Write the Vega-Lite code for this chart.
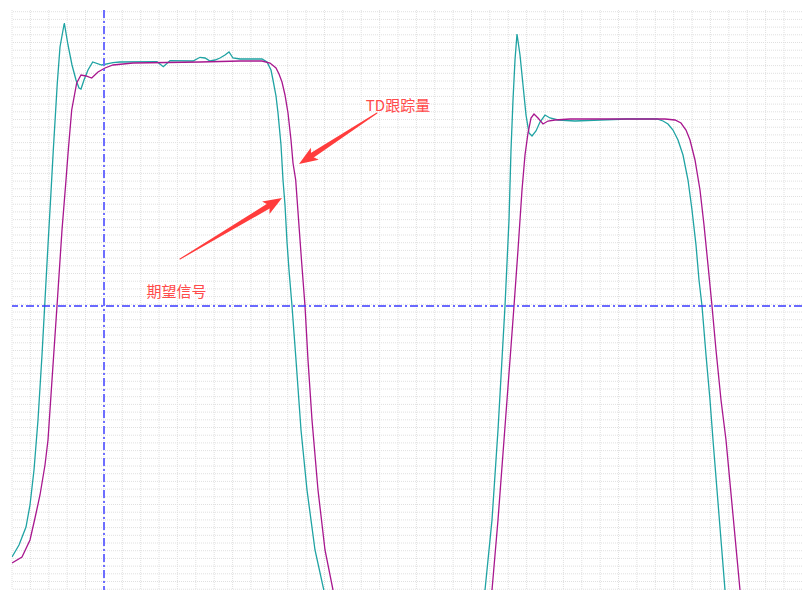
{
  "$schema": "https://vega.github.io/schema/vega-lite/v6.json",
  "width": 790,
  "height": 580,
  "padding": {"left": 12, "top": 10, "right": 0, "bottom": 0},
  "autosize": {"type": "none"},
  "background": "white",
  "config": {"view": {"stroke": null}},
  "datasets": {
    "gridx": [{"t": 0}, {"t": 18.4}, {"t": 36.8}, {"t": 55.1}, {"t": 73.5}, {"t": 91.9}, {"t": 110.3}, {"t": 128.7}, {"t": 147}, {"t": 165.4}, {"t": 183.8}, {"t": 202.2}, {"t": 220.6}, {"t": 238.9}, {"t": 257.3}, {"t": 275.7}, {"t": 294.1}, {"t": 312.5}, {"t": 330.8}, {"t": 349.2}, {"t": 367.6}, {"t": 386}, {"t": 404.4}, {"t": 422.7}, {"t": 441.1}, {"t": 459.5}, {"t": 477.9}, {"t": 496.3}, {"t": 514.6}, {"t": 533}, {"t": 551.4}, {"t": 569.8}, {"t": 588.2}, {"t": 606.5}, {"t": 624.9}, {"t": 643.3}, {"t": 661.7}, {"t": 680.1}, {"t": 698.4}, {"t": 716.8}, {"t": 735.2}, {"t": 753.6}, {"t": 772}],
    "gridy": [{"v": 0.8}, {"v": 8.5}, {"v": 16.2}, {"v": 23.9}, {"v": 31.6}, {"v": 39.3}, {"v": 47}, {"v": 54.7}, {"v": 62.4}, {"v": 70.1}, {"v": 77.8}, {"v": 85.5}, {"v": 93.2}, {"v": 100.9}, {"v": 108.6}, {"v": 116.3}, {"v": 124}, {"v": 131.7}, {"v": 139.4}, {"v": 147.1}, {"v": 154.8}, {"v": 162.5}, {"v": 170.2}, {"v": 177.9}, {"v": 185.6}, {"v": 193.3}, {"v": 201}, {"v": 208.7}, {"v": 216.4}, {"v": 224.1}, {"v": 231.8}, {"v": 239.5}, {"v": 247.2}, {"v": 254.9}, {"v": 262.6}, {"v": 270.3}, {"v": 278}, {"v": 285.7}, {"v": 293.4}, {"v": 301.1}, {"v": 308.8}, {"v": 316.5}, {"v": 324.2}, {"v": 331.9}, {"v": 339.6}, {"v": 347.3}, {"v": 355}, {"v": 362.7}, {"v": 370.4}, {"v": 378.1}, {"v": 385.8}, {"v": 393.5}, {"v": 401.2}, {"v": 408.9}, {"v": 416.6}, {"v": 424.3}, {"v": 432}, {"v": 439.7}, {"v": 447.4}, {"v": 455.1}, {"v": 462.8}, {"v": 470.5}, {"v": 478.2}, {"v": 485.9}, {"v": 493.6}, {"v": 501.3}, {"v": 509}, {"v": 516.7}, {"v": 524.4}, {"v": 532.1}, {"v": 539.8}, {"v": 547.5}, {"v": 555.2}, {"v": 562.9}, {"v": 570.6}, {"v": 578.3}],
    "curves": [
      {"s": "期望信号", "t": 0, "v": 33}, {"s": "期望信号", "t": 7, "v": 45}, {"s": "期望信号", "t": 14, "v": 63}, {"s": "期望信号", "t": 18, "v": 85}, {"s": "期望信号", "t": 22, "v": 120}, {"s": "期望信号", "t": 26, "v": 170}, {"s": "期望信号", "t": 30, "v": 235}, {"s": "期望信号", "t": 33, "v": 290}, {"s": "期望信号", "t": 36, "v": 345}, {"s": "期望信号", "t": 39, "v": 398}, {"s": "期望信号", "t": 41.3, "v": 440}, {"s": "期望信号", "t": 45.3, "v": 507}, {"s": "期望信号", "t": 48, "v": 543}, {"s": "期望信号", "t": 52.3, "v": 567}, {"s": "期望信号", "t": 56, "v": 545}, {"s": "期望信号", "t": 60, "v": 525}, {"s": "期望信号", "t": 64, "v": 510}, {"s": "期望信号", "t": 67, "v": 502}, {"s": "期望信号", "t": 69, "v": 501}, {"s": "期望信号", "t": 72, "v": 510}, {"s": "期望信号", "t": 76, "v": 520}, {"s": "期望信号", "t": 80.7, "v": 528}, {"s": "期望信号", "t": 89.7, "v": 525}, {"s": "期望信号", "t": 101, "v": 527.3}, {"s": "期望信号", "t": 108, "v": 528}, {"s": "期望信号", "t": 145, "v": 528.3}, {"s": "期望信号", "t": 151.3, "v": 523.3}, {"s": "期望信号", "t": 158, "v": 529.3}, {"s": "期望信号", "t": 181, "v": 529}, {"s": "期望信号", "t": 188, "v": 532.7}, {"s": "期望信号", "t": 193, "v": 532}, {"s": "期望信号", "t": 198, "v": 529}, {"s": "期望信号", "t": 203, "v": 530}, {"s": "期望信号", "t": 208, "v": 532}, {"s": "期望信号", "t": 213, "v": 535}, {"s": "期望信号", "t": 217, "v": 538}, {"s": "期望信号", "t": 221, "v": 532}, {"s": "期望信号", "t": 228, "v": 531}, {"s": "期望信号", "t": 238, "v": 531}, {"s": "期望信号", "t": 250, "v": 531}, {"s": "期望信号", "t": 255, "v": 528}, {"s": "期望信号", "t": 259, "v": 520}, {"s": "期望信号", "t": 261, "v": 510}, {"s": "期望信号", "t": 264, "v": 494}, {"s": "期望信号", "t": 266, "v": 477}, {"s": "期望信号", "t": 269, "v": 445}, {"s": "期望信号", "t": 271, "v": 410}, {"s": "期望信号", "t": 273, "v": 385}, {"s": "期望信号", "t": 275, "v": 348}, {"s": "期望信号", "t": 277, "v": 320}, {"s": "期望信号", "t": 280, "v": 284}, {"s": "期望信号", "t": 284, "v": 230}, {"s": "期望信号", "t": 289, "v": 160}, {"s": "期望信号", "t": 295, "v": 100}, {"s": "期望信号", "t": 303, "v": 40}, {"s": "期望信号", "t": 314, "v": -10}, {"s": "期望信号", "t": 328, "v": -50}, {"s": "期望信号", "t": 458, "v": -50}, {"s": "期望信号", "t": 473, "v": 0}, {"s": "期望信号", "t": 480, "v": 70}, {"s": "期望信号", "t": 486, "v": 160}, {"s": "期望信号", "t": 493, "v": 284}, {"s": "期望信号", "t": 497, "v": 370}, {"s": "期望信号", "t": 499, "v": 440}, {"s": "期望信号", "t": 501, "v": 490}, {"s": "期望信号", "t": 503, "v": 530}, {"s": "期望信号", "t": 505, "v": 556}, {"s": "期望信号", "t": 508, "v": 535}, {"s": "期望信号", "t": 511, "v": 505}, {"s": "期望信号", "t": 514, "v": 475}, {"s": "期望信号", "t": 517, "v": 457}, {"s": "期望信号", "t": 520, "v": 454}, {"s": "期望信号", "t": 524, "v": 459}, {"s": "期望信号", "t": 528, "v": 468}, {"s": "期望信号", "t": 533, "v": 475}, {"s": "期望信号", "t": 538, "v": 472}, {"s": "期望信号", "t": 546, "v": 470}, {"s": "期望信号", "t": 563, "v": 469}, {"s": "期望信号", "t": 588, "v": 470}, {"s": "期望信号", "t": 615, "v": 471}, {"s": "期望信号", "t": 645, "v": 471}, {"s": "期望信号", "t": 651, "v": 469}, {"s": "期望信号", "t": 656, "v": 466}, {"s": "期望信号", "t": 661, "v": 460}, {"s": "期望信号", "t": 666, "v": 450}, {"s": "期望信号", "t": 671, "v": 435}, {"s": "期望信号", "t": 676, "v": 410}, {"s": "期望信号", "t": 680, "v": 380}, {"s": "期望信号", "t": 684, "v": 345}, {"s": "期望信号", "t": 687, "v": 310}, {"s": "期望信号", "t": 690, "v": 284}, {"s": "期望信号", "t": 694, "v": 235}, {"s": "期望信号", "t": 698, "v": 190}, {"s": "期望信号", "t": 701, "v": 150}, {"s": "期望信号", "t": 707, "v": 75}, {"s": "期望信号", "t": 713, "v": 0}, {"s": "期望信号", "t": 719, "v": -70},
      {"s": "TD跟踪量", "t": 0, "v": 27}, {"s": "TD跟踪量", "t": 10, "v": 33}, {"s": "TD跟踪量", "t": 18, "v": 50}, {"s": "TD跟踪量", "t": 23, "v": 72}, {"s": "TD跟踪量", "t": 28, "v": 95}, {"s": "TD跟踪量", "t": 33, "v": 125}, {"s": "TD跟踪量", "t": 36, "v": 150}, {"s": "TD跟踪量", "t": 40, "v": 210}, {"s": "TD跟踪量", "t": 45, "v": 284}, {"s": "TD跟踪量", "t": 50, "v": 360}, {"s": "TD跟踪量", "t": 54, "v": 410}, {"s": "TD跟踪量", "t": 56.3, "v": 440}, {"s": "TD跟踪量", "t": 59.7, "v": 480}, {"s": "TD跟踪量", "t": 64.7, "v": 507}, {"s": "TD跟踪量", "t": 69, "v": 515}, {"s": "TD跟踪量", "t": 74, "v": 514}, {"s": "TD跟踪量", "t": 79.7, "v": 512}, {"s": "TD跟踪量", "t": 86, "v": 518}, {"s": "TD跟踪量", "t": 93, "v": 522}, {"s": "TD跟踪量", "t": 101, "v": 525}, {"s": "TD跟踪量", "t": 121, "v": 527}, {"s": "TD跟踪量", "t": 188, "v": 528}, {"s": "TD跟踪量", "t": 228, "v": 529}, {"s": "TD跟踪量", "t": 250, "v": 529}, {"s": "TD跟踪量", "t": 258, "v": 527}, {"s": "TD跟踪量", "t": 264, "v": 522}, {"s": "TD跟踪量", "t": 267, "v": 516}, {"s": "TD跟踪量", "t": 270, "v": 508}, {"s": "TD跟踪量", "t": 273, "v": 495}, {"s": "TD跟踪量", "t": 276, "v": 477}, {"s": "TD跟踪量", "t": 279, "v": 450}, {"s": "TD跟踪量", "t": 281, "v": 427}, {"s": "TD跟踪量", "t": 283.7, "v": 410}, {"s": "TD跟踪量", "t": 285.5, "v": 385}, {"s": "TD跟踪量", "t": 287.3, "v": 360}, {"s": "TD跟踪量", "t": 289.7, "v": 327}, {"s": "TD跟踪量", "t": 293, "v": 284}, {"s": "TD跟踪量", "t": 296, "v": 230}, {"s": "TD跟踪量", "t": 300, "v": 170}, {"s": "TD跟踪量", "t": 306, "v": 100}, {"s": "TD跟踪量", "t": 313, "v": 40}, {"s": "TD跟踪量", "t": 321, "v": 0}, {"s": "TD跟踪量", "t": 333, "v": -50}, {"s": "TD跟踪量", "t": 468, "v": -50}, {"s": "TD跟踪量", "t": 480, "v": 0}, {"s": "TD跟踪量", "t": 486, "v": 70}, {"s": "TD跟踪量", "t": 492, "v": 150}, {"s": "TD跟踪量", "t": 498, "v": 230}, {"s": "TD跟踪量", "t": 502, "v": 284}, {"s": "TD跟踪量", "t": 506, "v": 340}, {"s": "TD跟踪量", "t": 510, "v": 400}, {"s": "TD跟踪量", "t": 513, "v": 435}, {"s": "TD跟踪量", "t": 516, "v": 457}, {"s": "TD跟踪量", "t": 519, "v": 472}, {"s": "TD跟踪量", "t": 522, "v": 476}, {"s": "TD跟踪量", "t": 526, "v": 472}, {"s": "TD跟踪量", "t": 531, "v": 466}, {"s": "TD跟踪量", "t": 536, "v": 469}, {"s": "TD跟踪量", "t": 543, "v": 470}, {"s": "TD跟踪量", "t": 558, "v": 471}, {"s": "TD跟踪量", "t": 628, "v": 471}, {"s": "TD跟踪量", "t": 653, "v": 471}, {"s": "TD跟踪量", "t": 663, "v": 470}, {"s": "TD跟踪量", "t": 669, "v": 467}, {"s": "TD跟踪量", "t": 674, "v": 460}, {"s": "TD跟踪量", "t": 678, "v": 450}, {"s": "TD跟踪量", "t": 683, "v": 430}, {"s": "TD跟踪量", "t": 688, "v": 400}, {"s": "TD跟踪量", "t": 692, "v": 365}, {"s": "TD跟踪量", "t": 696, "v": 325}, {"s": "TD跟踪量", "t": 700, "v": 284}, {"s": "TD跟踪量", "t": 704, "v": 240}, {"s": "TD跟踪量", "t": 709, "v": 190}, {"s": "TD跟踪量", "t": 714, "v": 150}, {"s": "TD跟踪量", "t": 721, "v": 75}, {"s": "TD跟踪量", "t": 728, "v": 0}, {"s": "TD跟踪量", "t": 735, "v": -60}
    ],
    "labels": [
      {"txt": "TD跟踪量", "t": 386, "v": 484},
      {"txt": "期望信号", "t": 164.5, "v": 298.5}
    ],
    "arrows": [
      {"id": 1, "end": 0, "t": 365, "v": 477},
      {"id": 1, "end": 1, "t": 297, "v": 432.6},
      {"id": 2, "end": 0, "t": 168, "v": 331},
      {"id": 2, "end": 1, "t": 259.7, "v": 385.8}
    ],
    "heads": [
      {"id": 1, "t": 287, "v": 426},
      {"id": 2, "t": 270, "v": 392}
    ]
  },
  "encoding": {
    "x": {"field": "t", "type": "quantitative", "axis": null, "scale": {"domain": [0, 790], "nice": false, "zero": false}},
    "y": {"field": "v", "type": "quantitative", "axis": null, "scale": {"domain": [0, 580], "nice": false, "zero": false}}
  },
  "layer": [
    {
      "data": {"name": "gridx"},
      "mark": {"type": "rule", "color": "#e0e0e0", "strokeWidth": 1, "strokeDash": [1, 1]},
      "encoding": {"y": null}
    },
    {
      "data": {"name": "gridy"},
      "mark": {"type": "rule", "color": "#e0e0e0", "strokeWidth": 1, "strokeDash": [1, 1]},
      "encoding": {"x": null}
    },
    {
      "data": {"name": "curves"},
      "mark": {"type": "line", "strokeWidth": 1.3, "clip": true},
      "encoding": {
        "color": {"field": "s", "type": "nominal", "scale": {"domain": ["期望信号", "TD跟踪量"], "range": ["#1fa3a3", "#a8178f"]}, "legend": null},
        "detail": {"field": "s"}
      }
    },
    {
      "data": {"values": [{"t": 92}]},
      "mark": {"type": "rule", "color": "#6e6eff", "strokeWidth": 2, "strokeDash": [8, 3, 2, 3]},
      "encoding": {"y": null}
    },
    {
      "data": {"values": [{"v": 284}]},
      "mark": {"type": "rule", "color": "#3a3aff", "strokeWidth": 1.5, "strokeDash": [8, 3, 2, 3]},
      "encoding": {"x": null}
    },
    {
      "data": {"name": "arrows"},
      "mark": {"type": "trail", "color": "#ff3c3c"},
      "encoding": {
        "detail": {"field": "id"},
        "order": {"field": "end"},
        "size": {"field": "end", "type": "quantitative", "scale": {"domain": [0, 1], "range": [1, 5.5]}, "legend": null}
      }
    },
    {
      "data": {"name": "heads"},
      "transform": [{"filter": "datum.id == 1"}],
      "mark": {"type": "point", "filled": true, "color": "#ff3c3c", "opacity": 1, "shape": "M0,0 L0.8,2.1 L0,1.6 L-0.8,2.1 Z", "size": 324, "angle": 236.8},
      "encoding": {}
    },
    {
      "data": {"name": "heads"},
      "transform": [{"filter": "datum.id == 2"}],
      "mark": {"type": "point", "filled": true, "color": "#ff3c3c", "opacity": 1, "shape": "M0,0 L0.8,2.1 L0,1.6 L-0.8,2.1 Z", "size": 324, "angle": 59.1},
      "encoding": {}
    },
    {
      "data": {"name": "labels"},
      "mark": {"type": "text", "color": "#ff4a4a", "font": "Noto Sans CJK SC", "fontSize": 15, "align": "center", "baseline": "middle"},
      "encoding": {"text": {"field": "txt"}}
    }
  ]
}
